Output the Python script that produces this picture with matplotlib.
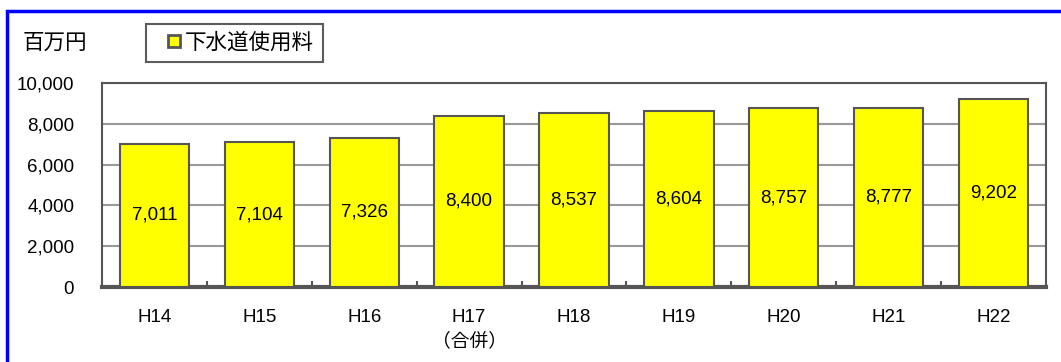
import numpy as np
import matplotlib.pyplot as plt
from matplotlib.patches import Rectangle
from matplotlib.lines import Line2D
from matplotlib.ticker import FuncFormatter

plt.rcParams['font.family'] = ['Liberation Sans', 'Noto Sans CJK JP', 'DejaVu Sans']

years = ['H14', 'H15', 'H16', 'H17\n（合併）', 'H18', 'H19', 'H20', 'H21', 'H22']
fees = [7011, 7104, 7326, 8400, 8537, 8604, 8757, 8777, 9202]

W, H = 1061, 362
fig = plt.figure(figsize=(W / 100, H / 100), dpi=100)
ax = fig.add_axes([102 / W, 1 - 287 / H, (1046 - 102) / W, (287 - 83) / H])

# blue outer border (runs off the right and bottom edges)
fig.patches.append(Rectangle((7 / W, -0.1), 1.2, 1 - 11 / H + 0.1,
                             transform=fig.transFigure, fill=False,
                             edgecolor='#0000ff', linewidth=2.5))

x = np.arange(len(years))
bars = ax.bar(x, fees, width=0.66, color='#ffff00', edgecolor='#555555',
              linewidth=1.5, zorder=3)

for xi, v in zip(x, fees):
    ax.text(xi, v / 2, f'{v:,}', ha='center', va='center', fontsize=13.5, zorder=4)

ax.set_xlim(-0.5, len(years) - 0.5)
ax.set_ylim(0, 10000)
ax.set_yticks(range(0, 10001, 2000))
ax.yaxis.set_major_formatter(FuncFormatter(lambda v, p: f'{int(v):,}'))
ax.yaxis.grid(True, color='#999999', linewidth=1.5, zorder=0)
ax.tick_params(axis='y', length=0, labelsize=13.5, pad=20)

ax.set_xticks(x)
ax.set_xticklabels(years, fontsize=13.5, linespacing=1.45, va='top')
ax.tick_params(axis='x', which='major', length=0, pad=16)
ax.set_xticks(x[:-1] + 0.5, minor=True)
ax.tick_params(axis='x', which='minor', direction='in', length=4,
               color='#555555', width=1.5)

for s in ax.spines.values():
    s.set_color('#555555')
    s.set_linewidth(1.5)
ax.spines['bottom'].set_linewidth(3)

fig.text(23 / W, 1 - 43 / H, '百万円', fontsize=15.5, va='center', ha='left')

handle = Line2D([], [], linestyle='none', marker='s', markersize=9,
                markerfacecolor='#ffff00', markeredgecolor='#555555',
                markeredgewidth=2)
leg = fig.legend([handle], ['下水道使用料'], loc='upper left',
                 bbox_to_anchor=(146 / W, 1 - 24 / H), fontsize=15.5,
                 frameon=True, fancybox=False, shadow=False,
                 handlelength=1.8, handletextpad=-0.39,
                 borderpad=0.4, borderaxespad=0)
leg.get_frame().set_edgecolor('#333333')
leg.get_frame().set_linewidth(1.5)

fig.savefig('out.png', dpi=100)
